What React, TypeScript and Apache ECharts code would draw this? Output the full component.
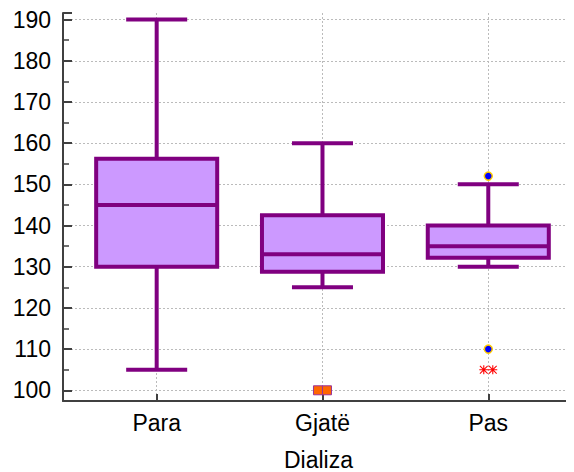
import React, { useEffect, useRef } from "react";
import * as echarts from "echarts";

const categories = ["Para", "Gjatë", "Pas"];
const whiskerLow = [105, 125, 130];
const q1 = [130, 128.8, 132.2];
const median = [145, 133, 135];
const q3 = [156.2, 142.5, 140];
const whiskerHigh = [190, 160, 150];
// outliers: [category index, value]
const squareOutliers: [number, number][] = [[1, 100], [1, 100]];
const circleOutliers: [number, number][] = [[2, 152], [2, 110]];
const starOutliers: [number, number][] = [[2, 105], [2, 105]];
const yTicks = [100, 110, 120, 130, 140, 150, 160, 170, 180, 190];

const PURPLE = "#800080";
const FILL = "#CC99FF";
const AXIS = "#404040";
const FONT = "Liberation Sans, Arial, sans-serif";
const FS = 23;

const STAR =
  "path://M4.4,0 L5.6,0 L5.6,10 L4.4,10 Z M0,4.4 L10,4.4 L10,5.6 L0,5.6 Z M1.1,0.3 L9.7,8.9 L8.9,9.7 L0.3,1.1 Z M8.9,0.3 L9.7,1.1 L1.1,9.7 L0.3,8.9 Z";

function spread(points: [number, number][], size: number) {
  const groups: Record<string, number> = {};
  points.forEach(([c, v]) => {
    const k = c + "_" + v;
    groups[k] = (groups[k] || 0) + 1;
  });
  const seen: Record<string, number> = {};
  return points.map(([c, v]) => {
    const k = c + "_" + v;
    const n = groups[k];
    const i = seen[k] || 0;
    seen[k] = i + 1;
    return { value: [c + 1, v], symbolOffset: [(i - (n - 1) / 2) * size, 0] };
  });
}

export default function App() {
  const ref = useRef<HTMLDivElement>(null);
  useEffect(() => {
    if (!ref.current) return;
    const chart = echarts.init(ref.current, undefined, { renderer: "svg" });
    const boxData = categories.map((_, i) => [
      i + 1,
      whiskerLow[i],
      q1[i],
      median[i],
      q3[i],
      whiskerHigh[i],
    ]);
    const BOX_W = 0.73;
    const CAP_W = 0.368;
    const yMin = 97.4;
    const yMax = 191.6;
    chart.setOption({
      animation: false,
      backgroundColor: "#ffffff",
      grid: { left: 63, right: 0, top: 13, bottom: 71, outerBoundsMode: "none", containLabel: false },
      xAxis: {
        type: "value",
        min: 0.435,
        max: 3.517,
        minInterval: 1,
        maxInterval: 1,
        name: "Dializa",
        nameLocation: "middle",
        nameGap: 47,
        nameMoveOverlap: false,
        nameTextStyle: { fontFamily: FONT, fontSize: FS, color: "#000" },
        axisLine: { show: true, onZero: false, lineStyle: { color: AXIS, width: 2 } },
        axisTick: {
          show: true,
          inside: true,
          length: 7,
          lineStyle: { color: AXIS, width: 2 },
        },
        axisLabel: {
          fontFamily: FONT,
          fontSize: FS,
          color: "#000",
          margin: 10,
          showMinLabel: false,
          showMaxLabel: false,
          formatter: (v: number) =>
            Number.isInteger(v) && v >= 1 && v <= categories.length ? categories[v - 1] : "",
        },
        splitLine: {
          show: true,
          showMinLine: false,
          showMaxLine: false,
          lineStyle: { color: "#bbbbbb", type: [2, 2], width: 1 },
        },
      },
      yAxis: {
        type: "value",
        min: yMin,
        max: yMax,
        minInterval: 10,
        maxInterval: 10,
        axisLine: { show: true, onZero: false, lineStyle: { color: AXIS, width: 2 } },
        axisTick: {
          show: true,
          inside: true,
          length: 9,
          lineStyle: { color: AXIS, width: 2 },
        },
        minorTick: {
          show: true,
          splitNumber: 2,
          length: 6,
          lineStyle: { color: AXIS, width: 1.5 },
        },
        axisLabel: {
          fontFamily: FONT,
          fontSize: FS,
          color: "#000",
          margin: 12,
          showMinLabel: false,
          showMaxLabel: false,
          formatter: (v: number) => (yTicks.indexOf(v) >= 0 ? String(v) : ""),
        },
        splitLine: {
          show: true,
          showMinLine: false,
          showMaxLine: false,
          lineStyle: { color: "#bbbbbb", type: [2, 2], width: 1 },
        },
      },
      series: [
        {
          type: "custom",
          data: boxData,
          encode: { x: 0, y: [1, 2, 3, 4, 5] },
          z: 2,
          renderItem: (params: any, api: any) => {
            const x = api.value(0);
            const pLo = api.coord([x, api.value(1)]);
            const pQ1 = api.coord([x, api.value(2)]);
            const pMed = api.coord([x, api.value(3)]);
            const pQ3 = api.coord([x, api.value(4)]);
            const pHi = api.coord([x, api.value(5)]);
            const hb = api.size([BOX_W, 0])[0] / 2;
            const hc = api.size([CAP_W, 0])[0] / 2;
            const cx = pMed[0];
            const ls = { stroke: PURPLE, lineWidth: 4, fill: null };
            return {
              type: "group",
              children: [
                { type: "line", shape: { x1: cx, y1: pHi[1], x2: cx, y2: pQ3[1] }, style: ls },
                { type: "line", shape: { x1: cx, y1: pQ1[1], x2: cx, y2: pLo[1] }, style: ls },
                { type: "line", shape: { x1: cx - hc, y1: pHi[1], x2: cx + hc, y2: pHi[1] }, style: ls },
                { type: "line", shape: { x1: cx - hc, y1: pLo[1], x2: cx + hc, y2: pLo[1] }, style: ls },
                {
                  type: "rect",
                  shape: { x: cx - hb, y: pQ3[1], width: 2 * hb, height: pQ1[1] - pQ3[1] },
                  style: { fill: FILL, stroke: PURPLE, lineWidth: 4 },
                },
                { type: "line", shape: { x1: cx - hb, y1: pMed[1], x2: cx + hb, y2: pMed[1] }, style: ls },
              ],
            };
          },
        },
        {
          type: "scatter",
          z: 3,
          symbol: "rect",
          symbolSize: 9,
          itemStyle: { color: "#FF6600", borderColor: "#993399", borderWidth: 1, opacity: 1 },
          data: spread(squareOutliers, 9),
        },
        {
          type: "scatter",
          z: 3,
          symbol: "circle",
          symbolSize: 8,
          itemStyle: { color: "#0000FF", borderColor: "#FFCC00", borderWidth: 1.5, opacity: 1 },
          data: spread(circleOutliers, 8),
        },
        {
          type: "scatter",
          z: 3,
          symbol: STAR,
          symbolSize: 9,
          itemStyle: { color: "#FF0000", opacity: 1 },
          data: spread(starOutliers, 9),
        },
      ],
    });
    return () => chart.dispose();
  }, []);
  return <div ref={ref} style={{ width: 574, height: 472, margin: "-8px 0 0 -8px" }} />;
}
